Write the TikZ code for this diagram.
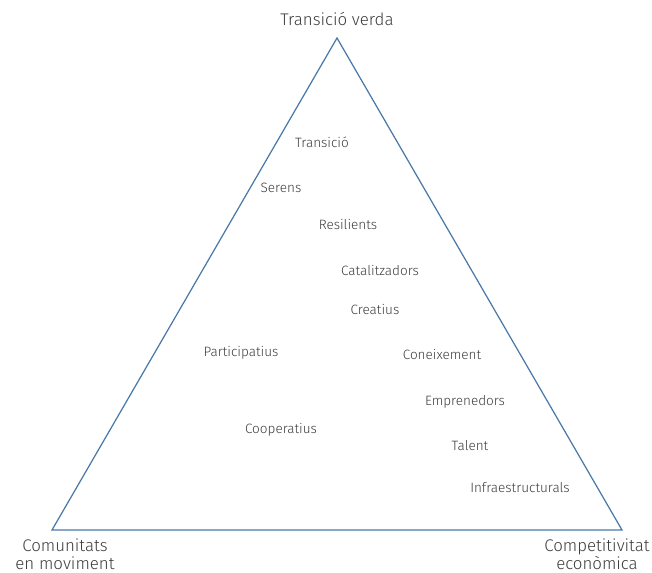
\documentclass[tikz,border=0pt]{standalone}
\usepackage{fontspec}
\setmainfont{Fira Sans Light}[BoldFont=Fira Sans]
\usepackage{tikz}
\usetikzlibrary{positioning}

\definecolor{edgeblue}{HTML}{4A78A8}
\definecolor{labelgray}{HTML}{3C3C3C}

\begin{document}
\begin{tikzpicture}[
				x=0.02cm, y=-0.02cm,
				node distance=0.1cm,
				pole/.style={
					text=labelgray,
					align=center,
					inner sep=1pt,
					font=\fontsize{9.6}{10.4}\selectfont
				},
				value/.style={
					text=labelgray,
					inner sep=1pt,
					font=\fontsize{7.7}{8}\selectfont
				},
				edge/.style={
					draw=edgeblue,
					line width=0.7pt,
					line join=miter
				}
				]
				
				\useasboundingbox (0,0) rectangle (652,572);
				
				% Corners of the triangle
				\coordinate (top) at (337,38);
				\coordinate (left) at (52,530);
				\coordinate (right) at (622,530);
				
				\draw[edge] (top) -- (left) -- (right) -- cycle;
				
				% Poles
				\node[pole] (verda) at (337,19) {Transició verda};
				\node[pole] (comunitats) at (65,554) {Comunitats\\en moviment};
				\node[pole] (competitivitat) at (597,554) {Competitivitat\\econòmica};
				
				% Values inside the triangle
				\node[value] (transicio) at (322,142) {Transició};
				\node[value] (serens) at (281,188) {Serens};
				\node[value] (resilients) at (348,224.5) {Resilients};
				\node[value] (catalitzadors) at (380,270.5) {Catalitzadors};
				\node[value] (creatius) at (375,309.5) {Creatius};
				\node[value] (participatius) at (241,352.5) {Participatius};
				\node[value] (coneixement) at (442,354.5) {Coneixement};
				\node[value] (emprenedors) at (465,401.5) {Emprenedors};
				\node[value] (cooperatius) at (281,429.5) {Cooperatius};
				\node[value] (talent) at (470,445.5) {Talent};
				\node[value] (infra) at (520,487.5) {Infraestructurals};
				
			\end{tikzpicture}
\end{document}
